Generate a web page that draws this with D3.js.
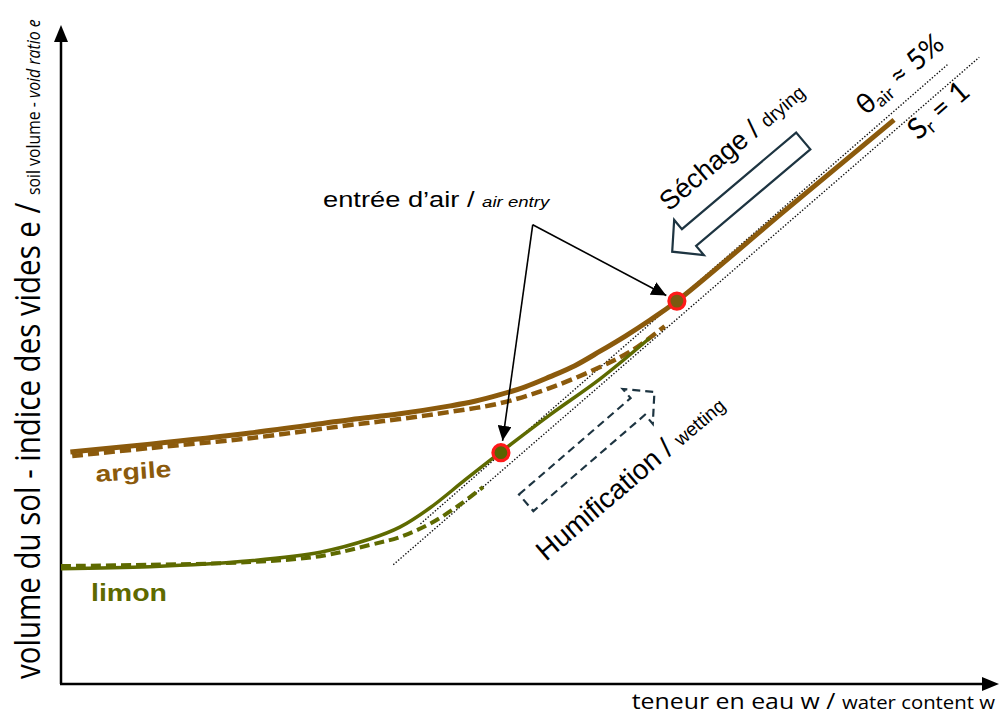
<!DOCTYPE html>
<html lang="en">
<head>
    <meta charset="UTF-8">
    <title>retrait - gonflement</title>
    <script src="https://cdn.jsdelivr.net/npm/d3@7"></script>
    <style>
        html, body {
            margin: 0;
            padding: 0;
            background: #fff;
            overflow: hidden;
        }
    </style>
</head>
<body>
<script>
    // values as % of the axis extents : w (water content) and e (void ratio)
    const argileW = [1.0, 9.5, 20.2, 30.9, 36.2, 41.6, 44.2, 46.9, 49.6, 52.2, 54.9, 57.6, 60.3, 62.9, 65.8, 77.4, 89.0];
    const argileE = [35.2, 36.4, 38.1, 40.1, 41.0, 42.2, 42.9, 43.9, 45.1, 46.6, 48.3, 50.5, 52.8, 55.2, 58.1, 71.9, 85.6];
    const argileDashW = [1.2, 9.5, 20.2, 30.9, 36.2, 41.6, 46.9, 52.2, 57.6, 61.1, 64.5];
    const argileDashE = [34.6, 35.8, 37.3, 39.3, 40.2, 41.3, 42.6, 44.9, 48.1, 50.7, 54.3];
    const limonW = [0, 9.5, 20.2, 27.7, 33.0, 36.2, 39.4, 43.2, 46.9, 52.2, 57.6, 62.9];
    const limonE = [17.5, 17.8, 18.7, 20.0, 22.0, 23.8, 26.7, 31.0, 35.1, 40.8, 46.3, 52.5];
    const limonDashW = [0, 9.5, 20.2, 27.7, 33.0, 36.2, 39.4, 42.6, 45.1];
    const limonDashE = [17.9, 18.1, 18.5, 19.4, 21.1, 22.3, 24.3, 27.2, 29.9];

    // saturation line Sr = 1 and air content line
    const satW = [35.5, 98.1];
    const satE = [18.1, 95.1];
    const airW = [38.4, 94.8];
    const airE = [24.3, 94.1];

    // air entry points [argile, limon]
    const entryW = [65.8, 47.0];
    const entryE = [58.1, 35.1];

    const brown = '#8b5a0c';
    const olive = '#5e6a00';
    const dark = '#1d3441';

    let width = 1001;
    let height = 716;

    let svg = d3.select('body').append('svg')
        .attr('width', width)
        .attr('height', height);

    let x = d3.scaleLinear().domain([0, 100]).range([61, 997]);
    let y = d3.scaleLinear().domain([0, 100]).range([684, 25]);

    let line = d3.line()
        .x(d => x(d[0]))
        .y(d => y(d[1]))
        .curve(d3.curveCatmullRom.alpha(0.5));

    let zip = (a, b) => a.map((v, i) => [v, b[i]]);

    let defs = svg.append('defs');
    defs.append('marker')
        .attr('id', 'head')
        .attr('markerUnits', 'userSpaceOnUse')
        .attr('markerWidth', 16)
        .attr('markerHeight', 14)
        .attr('refX', 15)
        .attr('refY', 7)
        .attr('orient', 'auto')
        .append('path')
        .attr('d', 'M0,0 L15,7 L0,14 Z')
        .attr('fill', '#000');

    // axes
    let axes = svg.append('g');
    axes.append('line')
        .attr('x1', x(0)).attr('y1', y(0))
        .attr('x2', x(0)).attr('y2', y(100) + 14)
        .attr('stroke', '#000').attr('stroke-width', 2.5);
    axes.append('path')
        .attr('d', `M${x(0)},${y(100)} L${x(0) - 7},${y(100) + 17} L${x(0) + 7},${y(100) + 17} Z`)
        .attr('fill', '#000');
    axes.append('line')
        .attr('x1', x(0) - 1).attr('y1', y(0))
        .attr('x2', x(100) - 14).attr('y2', y(0))
        .attr('stroke', '#000').attr('stroke-width', 2.5);
    axes.append('path')
        .attr('d', `M${x(100) + 2},${y(0)} L${x(100) - 15},${y(0) - 7} L${x(100) - 15},${y(0) + 7} Z`)
        .attr('fill', '#000');

    // reference dotted lines
    [[satW, satE], [airW, airE]].forEach(p => {
        svg.append('path')
            .attr('d', d3.line().x(d => x(d[0])).y(d => y(d[1]))(zip(p[0], p[1])))
            .attr('fill', 'none')
            .attr('stroke', '#111')
            .attr('stroke-width', 1.4)
            .attr('stroke-dasharray', '1.4,1.8');
    });

    // curves
    svg.append('path')
        .attr('d', line(zip(argileDashW, argileDashE)))
        .attr('fill', 'none').attr('stroke', brown)
        .attr('stroke-width', 4.5).attr('stroke-dasharray', '11,5');
    svg.append('path')
        .attr('d', line(zip(argileW, argileE)))
        .attr('fill', 'none').attr('stroke', brown)
        .attr('stroke-width', 5);
    svg.append('path')
        .attr('d', line(zip(limonDashW, limonDashE)))
        .attr('fill', 'none').attr('stroke', olive)
        .attr('stroke-width', 4).attr('stroke-dasharray', '10,5');
    svg.append('path')
        .attr('d', line(zip(limonW, limonE)))
        .attr('fill', 'none').attr('stroke', olive)
        .attr('stroke-width', 3.5);

    // air entry annotation
    let ox = x(50.4), oy = y(69.7);
    entryW.forEach((w, i) => {
        let tx = x(w), ty = y(entryE[i]);
        let dx = tx - ox, dy = ty - oy;
        let len = Math.sqrt(dx * dx + dy * dy);
        let k = (len - 12) / len;
        svg.append('line')
            .attr('x1', ox).attr('y1', oy)
            .attr('x2', ox + dx * k).attr('y2', oy + dy * k)
            .attr('stroke', '#000').attr('stroke-width', 1.6)
            .attr('marker-end', 'url(#head)');
    });

    svg.selectAll('.entry')
        .data(entryW)
        .enter()
        .append('circle')
        .attr('cx', d => x(d))
        .attr('cy', (d, i) => y(entryE[i]))
        .attr('r', 8)
        .attr('fill', (d, i) => i === 0 ? '#7b5a10' : '#5a6400')
        .attr('stroke', '#ff1a1a')
        .attr('stroke-width', 3.2);

    // big hollow arrows
    function bigArrow(from, to, dashed) {
        let x0 = x(from[0]), y0 = y(from[1]);
        let x1 = x(to[0]), y1 = y(to[1]);
        let L = Math.sqrt((x1 - x0) ** 2 + (y1 - y0) ** 2);
        let ang = Math.atan2(y1 - y0, x1 - x0) * 180 / Math.PI;
        let sw = 11, hw = 23, hl = 22;
        let pts = [[0, -sw], [L - hl, -sw], [L - hl, -hw], [L, 0], [L - hl, hw], [L - hl, sw], [0, sw]];
        svg.append('path')
            .attr('d', 'M' + pts.map(p => p.join(',')).join('L') + 'Z')
            .attr('transform', `translate(${x0},${y0}) rotate(${ang})`)
            .attr('fill', 'none')
            .attr('stroke', dark)
            .attr('stroke-width', 2.2)
            .attr('stroke-linejoin', 'miter')
            .attr('stroke-dasharray', dashed ? '8,5' : null);
    }
    bigArrow([79.3, 82.4], [65.3, 65.6], false);
    bigArrow([49.7, 27.5], [63.4, 44.3], true);

    // texts
    const sans = "'Liberation Sans', Arial, sans-serif";
    const seg = "'Open Sans', sans-serif";

    let t1 = svg.append('text')
        .attr('transform', 'translate(323,207) scale(1.24,1)')
        .attr('font-family', sans).attr('font-size', 22);
    t1.append('tspan').text('entrée d’air / ');
    t1.append('tspan').attr('font-size', 15).attr('font-style', 'italic').text('air entry');

    let t2 = svg.append('text')
        .attr('transform', 'translate(669,212) rotate(-40.5)')
        .attr('font-family', sans).attr('font-size', 27);
    t2.append('tspan').text('Séchage / ');
    t2.append('tspan').attr('font-size', 19).text('drying');

    let t3 = svg.append('text')
        .attr('transform', 'translate(546,562) rotate(-40.5)')
        .attr('font-family', sans).attr('font-size', 28);
    t3.append('tspan').text('Humification / ');
    t3.append('tspan').attr('font-size', 19).text('wetting');

    let t4 = svg.append('text')
        .attr('transform', 'translate(866,116) rotate(-41)')
        .attr('font-family', "Lato, sans-serif").attr('font-size', 28);
    t4.append('tspan').text('θ');
    t4.append('tspan').attr('font-size', 18).attr('dy', 4).text('air');
    t4.append('tspan').attr('dy', -4).text(' ≈ 5%');

    let t5 = svg.append('text')
        .attr('transform', 'translate(918,141) rotate(-41)')
        .attr('font-family', "Lato, sans-serif").attr('font-size', 29);
    t5.append('tspan').text('S');
    t5.append('tspan').attr('font-size', 19).attr('dy', 4).text('r');
    t5.append('tspan').attr('dy', -4).text(' = 1');

    svg.append('text')
        .attr('transform', 'translate(96,482) rotate(-4) scale(1.24,1)')
        .attr('font-family', sans).attr('font-size', 23).attr('font-weight', 'bold')
        .attr('fill', brown).text('argile');
    svg.append('text')
        .attr('transform', 'translate(91,601) scale(1.24,1)')
        .attr('font-family', sans).attr('font-size', 23).attr('font-weight', 'bold')
        .attr('fill', olive).text('limon');

    let xl = svg.append('text')
        .attr('transform', 'translate(995,709) scale(1.13,1)')
        .attr('text-anchor', 'end')
        .attr('font-family', seg).attr('font-size', 22);
    xl.append('tspan').text('teneur en eau w / ');
    xl.append('tspan').attr('font-size', 18).text('water content w');

    let yl = svg.append('text')
        .attr('transform', 'translate(40,679) scale(1.15,1) rotate(-90)')
        .attr('font-family', seg).attr('font-size', 29.5);
    yl.append('tspan').text('volume du sol - indice des vides e / ');
    yl.append('tspan').attr('font-size', 15.8).text('soil volume - ');
    yl.append('tspan').attr('font-size', 15.8).attr('font-style', 'italic').text('void ratio e');
</script>
</body>
</html>
